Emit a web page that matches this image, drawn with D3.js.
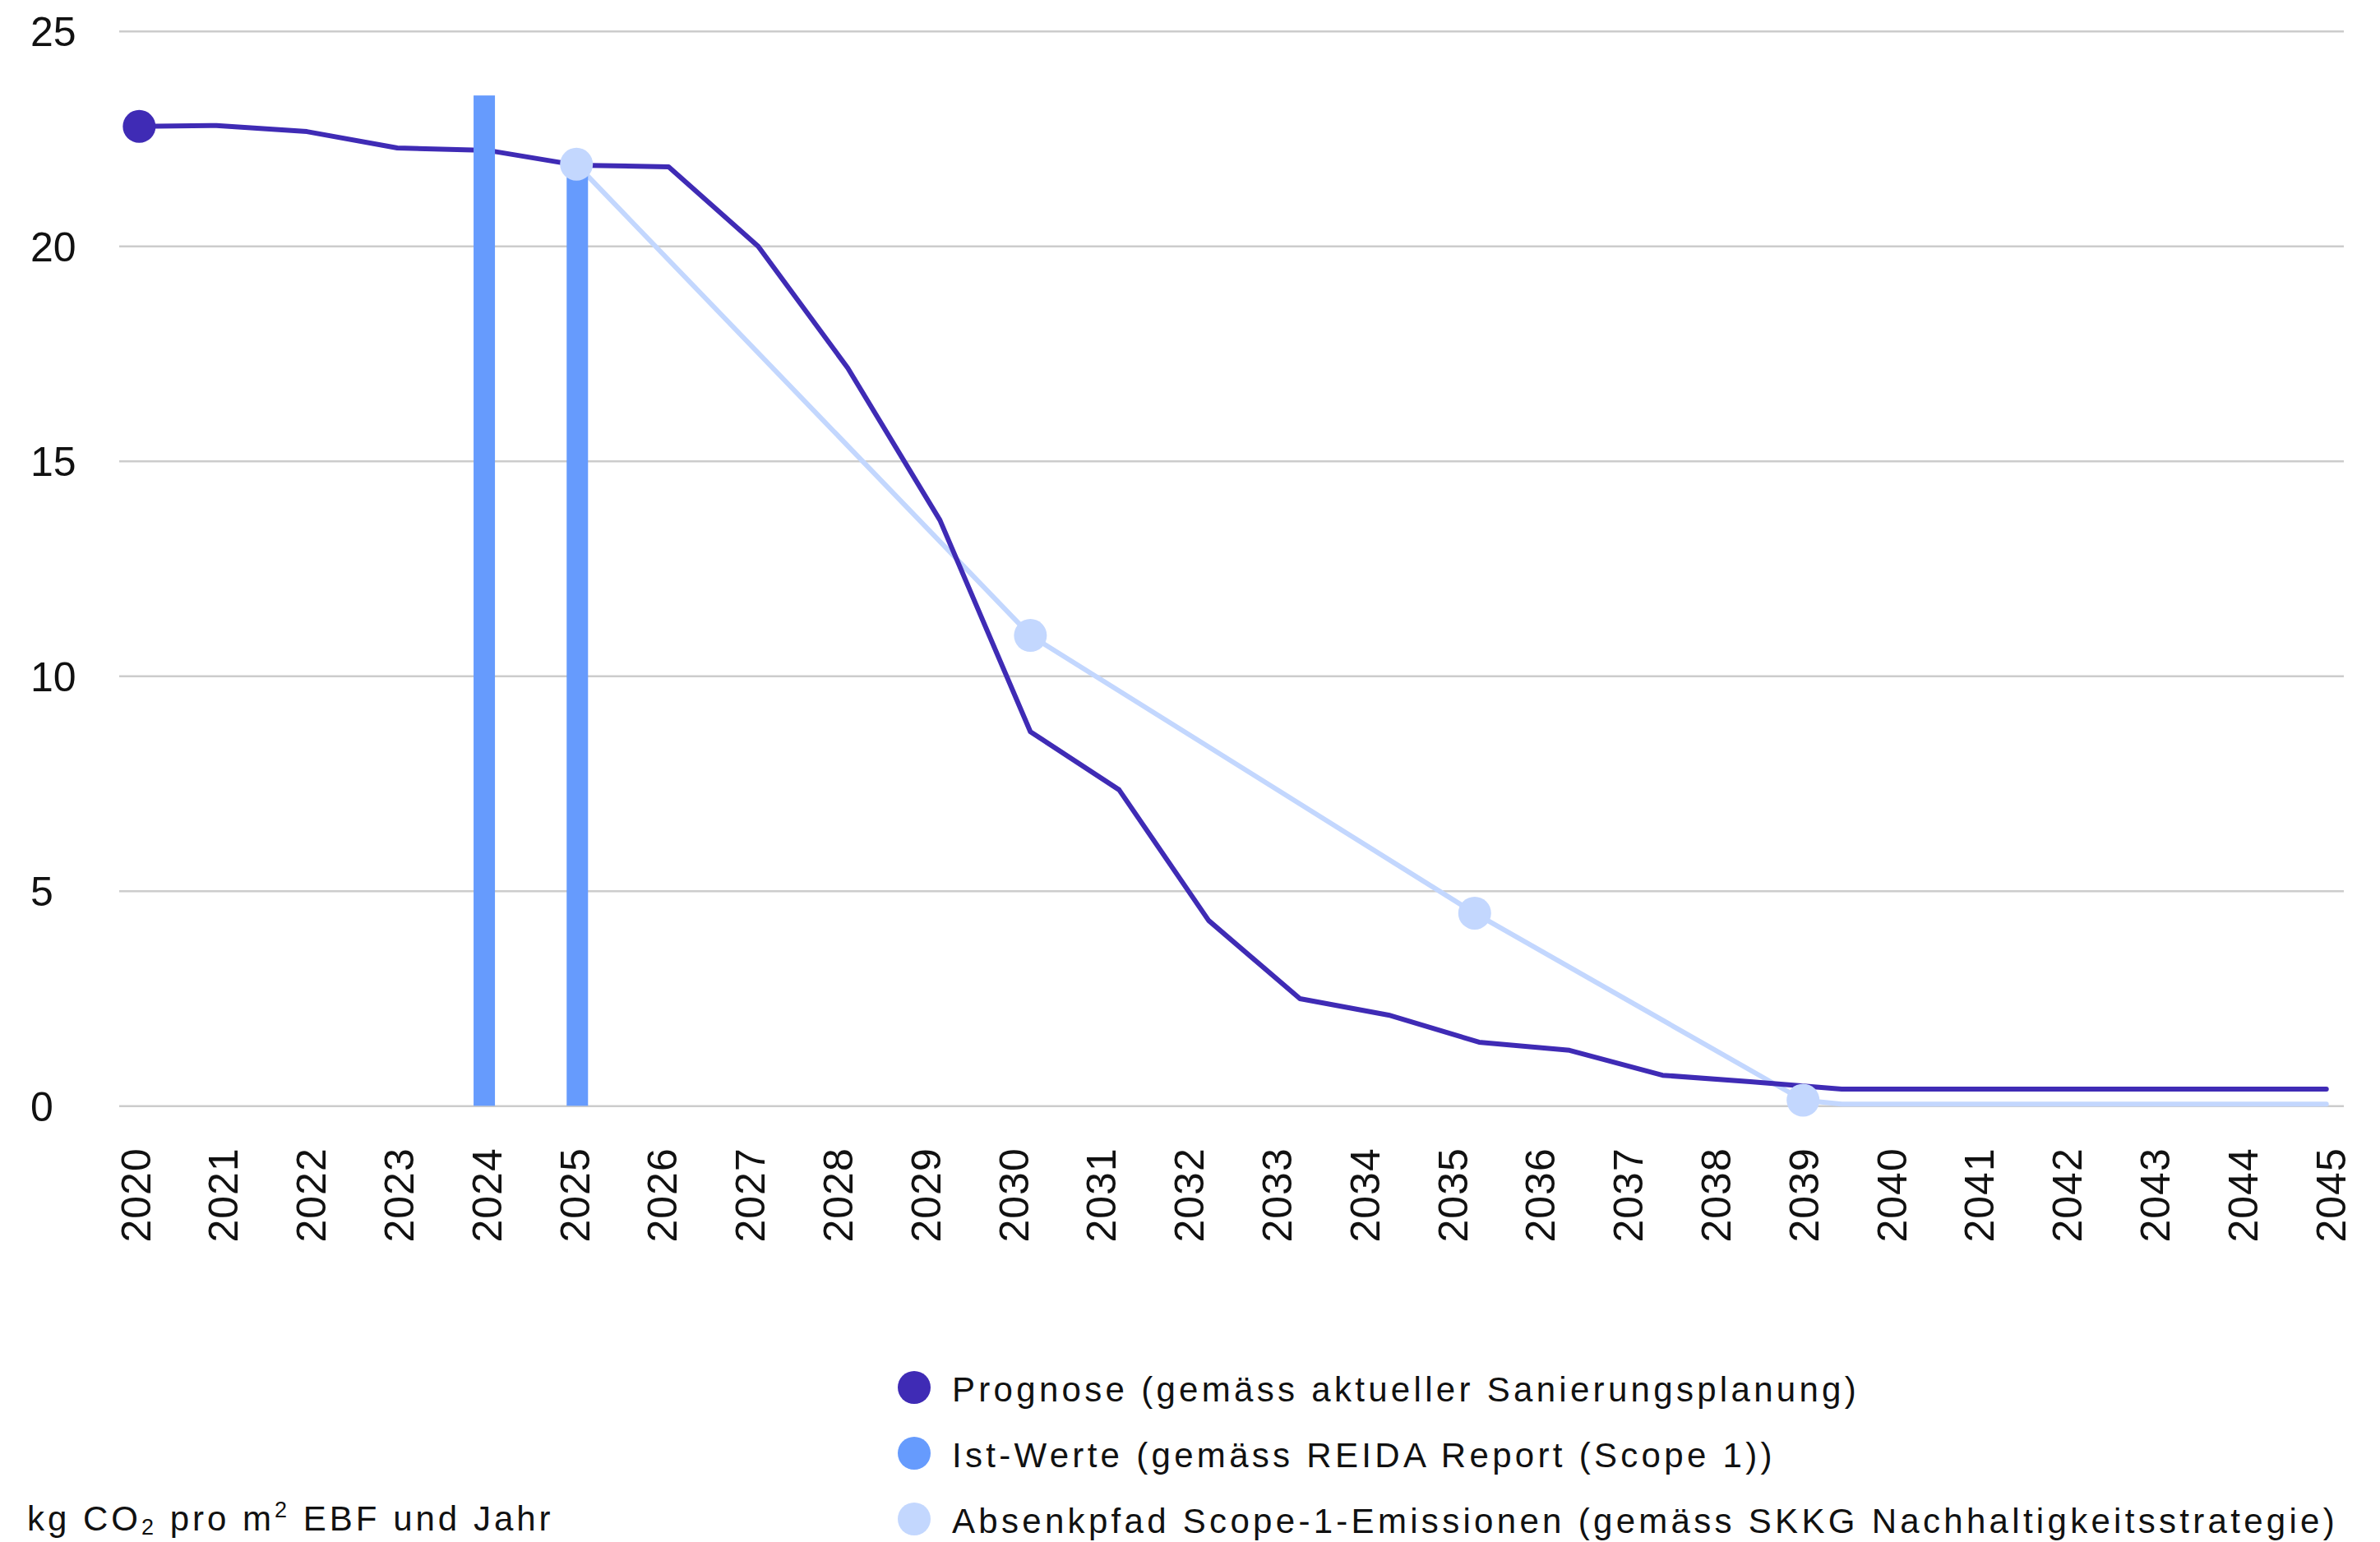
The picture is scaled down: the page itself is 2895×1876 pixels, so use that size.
<!DOCTYPE html>
<html>
<head>
<meta charset="utf-8">
<script src="https://cdn.jsdelivr.net/npm/d3@7/dist/d3.min.js"></script>
<style>
  html, body { margin: 0; padding: 0; background: #ffffff; }
  svg { display: block; }
  text { font-family: "Liberation Sans", Arial, sans-serif; fill: #111111; }
</style>
</head>
<body>
<svg id="chart" width="2895" height="1876"></svg>
<script>
// ---------- data ----------
const yearTicks = [2020, 2021, 2022, 2023, 2024, 2025, 2026, 2027, 2028, 2029, 2030, 2031, 2032,
                   2033, 2034, 2035, 2036, 2037, 2038, 2039, 2040, 2041, 2042, 2043, 2044, 2045];
const valueTicks = [0, 5, 10, 15, 20, 25];

// Prognose (gemäss aktueller Sanierungsplanung) – positions
const prognoseX = [2020.05, 2020.93, 2021.96, 2022.99, 2024.03, 2025.03, 2026.08, 2027.10, 2028.12,
                   2029.17, 2030.20, 2031.21, 2032.23, 2033.27, 2034.28, 2035.31, 2036.34, 2037.40,
                   2038.40, 2039.44, 2040.46, 2041.49, 2042.53, 2043.55, 2044.96];
const prognoseY = [22.78, 22.80, 22.66, 22.28, 22.22, 21.88, 21.84, 19.99, 17.16,
                   13.62, 8.70, 7.35, 4.31, 2.49, 2.11, 1.48, 1.29, 0.71,
                   0.56, 0.39, 0.39, 0.39, 0.39, 0.39, 0.39];

// Ist-Werte (gemäss REIDA Report (Scope 1)) – bar positions
const istYears = [2023.98, 2025.04];
const istValues = [23.5, 21.9];

// Absenkpfad Scope-1-Emissionen (gemäss SKKG Nachhaltigkeitsstrategie)
const absenkX = [2025.03, 2030.20, 2035.26, 2039.00, 2039.44, 2040.46, 2041.49, 2042.53, 2043.55, 2044.96];
const absenkY = [21.90, 10.94, 4.48, 0.13, 0.04, 0.04, 0.04, 0.04, 0.04, 0.04];
const absenkMarkers = [0, 1, 2, 3]; // indices with a dot

const legendLabels = [
  "Prognose (gemäss aktueller Sanierungsplanung)",
  "Ist-Werte (gemäss REIDA Report (Scope 1))",
  "Absenkpfad Scope-1-Emissionen (gemäss SKKG Nachhaltigkeitsstrategie)"
];
const colors = ["#3F2BB5", "#669BFD", "#C3D7FE"];

// ---------- layout ----------
const svg = d3.select("#chart");
const gridLeft = 145, gridRight = 2851;
const x = d3.scaleLinear().domain([2020, 2045]).range([164, 2834]);
const y = d3.scaleLinear().domain([0, 25]).range([1345.3, 37.7]);

// grid + y labels
const yAxis = svg.append("g")
  .attr("transform", `translate(${gridRight},0)`)
  .call(d3.axisLeft(y).tickValues(valueTicks).tickSize(gridRight - gridLeft).tickPadding(0));
yAxis.select(".domain").remove();
yAxis.selectAll(".tick line").attr("stroke", "#cccccc").attr("stroke-width", 2.4);
yAxis.selectAll(".tick text")
  .attr("x", 37 - gridRight)
  .attr("text-anchor", "start")
  .attr("dy", "0.36em")
  .style("font-size", "50px")
  .style("fill", "#111");

// x labels
const xAxis = svg.append("g")
  .attr("transform", `translate(0,${y(0)})`)
  .call(d3.axisBottom(x).tickValues(yearTicks).tickFormat(d3.format("d")).tickSize(0));
xAxis.select(".domain").remove();
xAxis.selectAll(".tick text")
  .attr("transform", "rotate(-90)")
  .attr("x", -51)
  .attr("y", 0)
  .attr("dy", "0.36em")
  .attr("text-anchor", "end")
  .style("font-size", "50px")
  .style("letter-spacing", "1px")
  .style("fill", "#111");

const line = d3.line().x(d => x(d[0])).y(d => y(d[1]));

// Absenkpfad line
const absenkData = absenkX.map((v, i) => [v, absenkY[i]]);
svg.append("path")
  .datum(absenkData)
  .attr("d", line)
  .attr("fill", "none")
  .attr("stroke", colors[2])
  .attr("stroke-width", 6)
  .attr("stroke-linejoin", "round")
  .attr("stroke-linecap", "round");

// Prognose line
const prognoseData = prognoseX.map((v, i) => [v, prognoseY[i]]);
svg.append("path")
  .datum(prognoseData)
  .attr("d", line)
  .attr("fill", "none")
  .attr("stroke", colors[0])
  .attr("stroke-width", 6)
  .attr("stroke-linejoin", "round")
  .attr("stroke-linecap", "round");

// Ist-Werte bars
const barW = 26;
svg.append("g").selectAll("rect")
  .data(istYears.map((yr, i) => ({ yr, v: istValues[i] })))
  .join("rect")
  .attr("x", d => x(d.yr) - barW / 2)
  .attr("width", barW)
  .attr("y", d => y(d.v))
  .attr("height", d => y(0) - y(d.v))
  .attr("fill", colors[1]);

// markers
svg.append("g").selectAll("circle")
  .data(absenkMarkers.map(i => absenkData[i]))
  .join("circle")
  .attr("cx", d => x(d[0]))
  .attr("cy", d => y(d[1]))
  .attr("r", 20)
  .attr("fill", colors[2]);

svg.append("circle")
  .attr("cx", x(prognoseData[0][0]))
  .attr("cy", y(prognoseData[0][1]))
  .attr("r", 20)
  .attr("fill", colors[0]);

// legend
const legend = svg.append("g");
const legendRows = legend.selectAll("g")
  .data(legendLabels)
  .join("g")
  .attr("transform", (d, i) => `translate(1112,${1690 + i * 80})`);
legendRows.append("circle").attr("r", 20).attr("cy", -2).attr("fill", (d, i) => colors[i]);
legendRows.append("text")
  .attr("x", 46)
  .attr("dy", "0.35em")
  .style("font-size", "42px")
  .style("letter-spacing", "4.3px")
  .text(d => d);

// unit label
const unit = svg.append("text")
  .attr("x", 33)
  .attr("y", 1862)
  .style("font-size", "42px")
  .style("letter-spacing", "4px");
unit.append("tspan").text("kg CO");
unit.append("tspan").attr("dy", 5).style("font-size", "27px").text("2");
unit.append("tspan").attr("dy", -5).text(" pro m");
unit.append("tspan").attr("dy", -16).style("font-size", "27px").text("2");
unit.append("tspan").attr("dy", 16).text(" EBF und Jahr");
</script>
</body>
</html>
